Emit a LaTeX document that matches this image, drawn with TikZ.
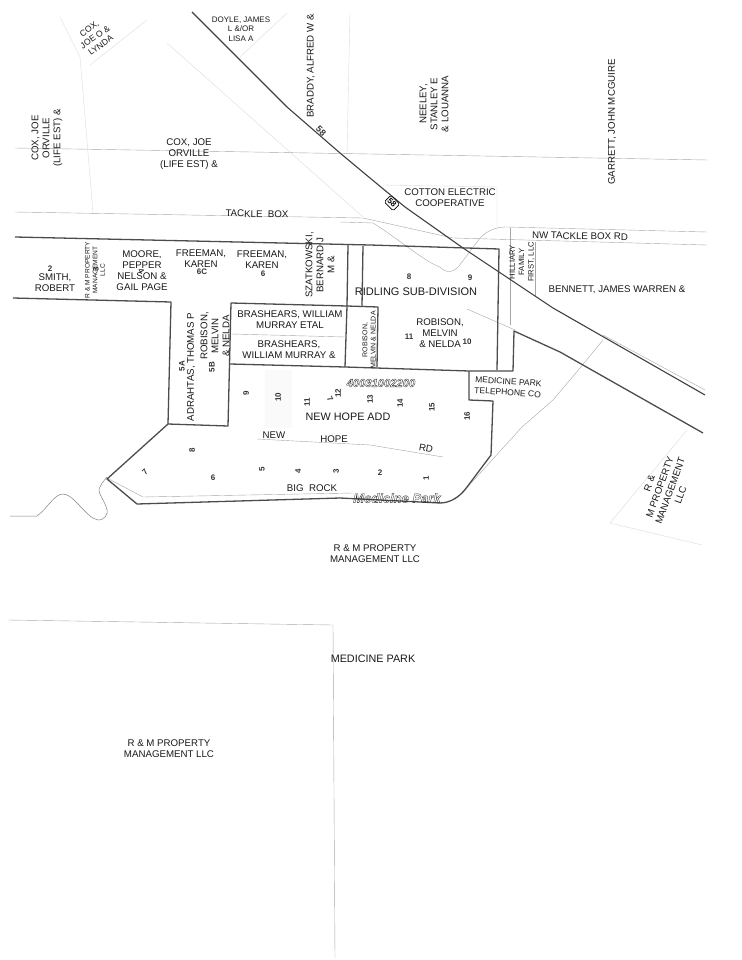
\documentclass[tikz,border=0pt]{standalone}
\usepackage{fontspec}
\setmainfont{Liberation Sans}
\newcommand{\hollowtext}[1]{\special{pdf:code 1 Tr .35 w}#1\special{pdf:code 0 Tr}}
\begin{document}
\begin{tikzpicture}
[x=1pt,y=-1pt,
lotline/.style={black!70,line width=1.3pt,line join=round},
highway/.style={black!75,line width=1.1pt},
faint/.style={black!35,line width=.4pt},
faintest/.style={black!14,line width=.4pt},
owner/.style={font=\fontsize{9.7}{11}\selectfont,align=center,inner sep=0pt,black!90},
small/.style={font=\fontsize{8}{9.6}\selectfont,align=center,inner sep=0pt,black!90},
lotno/.style={font=\bfseries\fontsize{8}{9}\selectfont,inner sep=0pt,black!80},
hollow/.style={font=\bfseries\itshape\fontsize{11.2}{12}\selectfont,inner sep=0pt,black!80}]
\useasboundingbox (0,0) rectangle (741,960);
\fill[black!2] (265,370) rectangle (292,428);
\draw[faint] (15,148) -- (370,154) -- (708,160);
\draw[faint] (15,212) -- (363,218) -- (453,238) -- (707,245);
\draw[faint] (340,222) -- (373,223) .. controls (400,240) and (425,262) .. (440,267)
	.. controls (448,275) and (455,272) .. (462,262) -- (480,238) .. controls (490,228) and (500,227) .. (507,227) -- (707,232);
\draw[faint] (463,492) -- (522,427) -- (553,400) -- (580,368) -- (603,340);
\draw[faint] (603,335) -- (705,390);
\draw[faint] (107,478) -- (143,497) -- (353,493);
\draw[faint] (257,439) -- (370,445) -- (443,457);
\draw[black!50,line width=.5pt] (10,516) -- (37,516) .. controls (48,508) and (54,494) .. (63,494)
	.. controls (74,494) and (86,518) .. (98,520) .. controls (105,520) and (108,514) .. (107,510) .. controls (105,500) and (96,492) .. (100,487) .. controls (102,482) and (105,480) .. (107,477);
\draw[faint] (8,620) -- (333,625) -- (335,958);
\draw[faintest] (687,430) -- (610,523) -- (702,545);
\draw[faint] (510,228) -- (510,325);
\draw[faint] (535,242) -- (535,297);
\draw[faint] (467,309) -- (515,330);
\draw[faint] (231,334) -- (345,337);
\draw[faintest] (60,17) -- (80,57) -- (93,213);
\draw[faintest] (90,65) -- (147,20);
\draw[faintest] (240,57) -- (287,13);
\draw[faintest] (350,13) -- (347,153);
\draw[faintest] (167,43) -- (363,217);
\draw[faintest] (383,185) -- (497,187) -- (497,230);
\draw[highway] (192,12) -- (287,107) -- (340,153) -- (370,178) -- (405,207) -- (463,248) -- (553,308) -- (705,395);
\draw[lotline] (15,237) -- (370,245) -- (499,249) -- (497,370);
\draw[lotline] (13,298) -- (171,302) -- (168,424) -- (228,426) -- (231,303) -- (347,306) -- (345,367);
\draw[lotline] (348,245) -- (347,306) -- (378,307) -- (377,367);
\draw[lotline] (363,246) -- (362,306);
\draw[lotline] (230,364) -- (345,367) -- (469,371) -- (513,371) -- (514,331) -- (560,352) -- (703,433);
\draw[lotline] (469,371) -- (469,400) -- (493,401) -- (491,455) -- (467,487)
	.. controls (460,497) and (450,503) .. (440,503) -- (340,498) -- (137,504) -- (107,479) -- (168,424);
\node[draw=black,fill=white,rounded corners=1.5pt,line width=.7pt,rotate=-45,inner sep=1.8pt,font=\bfseries\fontsize{8}{9}\selectfont] (shield) at (392,203) {58};
\node[lotno,rotate=-45,font=\bfseries\fontsize{9}{10}\selectfont] (routeno) at (321,131) {58};
\node[small,rotate=35,font=\fontsize{8.6}{10}\selectfont] (coxo) at (95,37) {COX,\\JOE O \&\\LYNDA};
\node[small] (doyle) at (241,29) {DOYLE, JAMES\\L \&/OR\\LISA A};
\node[owner,rotate=90] (braddy) at (311,66) {BRADDY, ALFRED W \&};
\node[owner,rotate=90] (neeley) at (434,104) {NEELEY,\\STANLEY E\\\& LOUANNA};
\node[owner,rotate=90] (garrett) at (612,122) {GARRETT, JOHN MCGUIRE};
\node[owner,rotate=90] (coxa) at (47,138) {COX, JOE\\ORVILLE\\(LIFE EST) \&};
\node[owner] (coxb) at (189,154) {COX, JOE\\ORVILLE\\(LIFE EST) \&};
\node[owner,rotate=-1] (tackle) at (257,214) {TACKLE\ \ BOX};
\node[owner] (cotton) at (450,198) {COTTON ELECTRIC\\COOPERATIVE};
\node[owner,rotate=-1] (tacklerd) at (580,236) {NW TACKLE BOX RD};
\node[small,rotate=90,font=\fontsize{7.7}{9.4}\selectfont] (hilliary) at (522,262) {HILLIARY\\FAMILY\\FIRST, LLC};
\node[owner] (bennett) at (617,290) {BENNETT, JAMES WARREN \&};
\node[owner,font=\fontsize{11}{13}\selectfont] (ridling) at (416,292) {RIDLING SUB-DIVISION};
\node[owner] (robisona) at (440,333) {ROBISON,\\MELVIN\\\& NELDA};
\node[small,font=\fontsize{7}{8.2}\selectfont,rotate=90] (robisonb) at (369,340) {ROBISON,\\MELVIN \& NELDA};
\node[small,rotate=-4,font=\fontsize{8.5}{11}\selectfont] (telephone) at (508,387) {MEDICINE PARK\\TELEPHONE CO};
\node[hollow] (parcel) at (381,383) {\hollowtext{40031002200}};
\node[owner,font=\fontsize{10.8}{12}\selectfont] (newhopeadd) at (348,417) {NEW HOPE ADD};
\node[owner] (newname) at (274,435) {NEW};
\node[owner] (hopename) at (334,439) {HOPE};
\node[owner,rotate=-10] (rdname) at (426,448) {RD};
\node[owner] (bigrock) at (312,488) {BIG\ \ ROCK};
\node[hollow,font=\bfseries\itshape\fontsize{13}{14}\selectfont] (medpark) at (397,498) {\hollowtext{Medicine Park}};
\node[owner] (smith) at (55,283) {SMITH,\\ROBERT};
\node[small,font=\fontsize{6.6}{7.6}\selectfont,rotate=90] (rmsmall) at (95,270) {R \& M PROPERTY\\MANAGEMENT\\LLC};
\node[owner] (moore) at (142,271) {MOORE,\\PEPPER\\NELSON \&\\GAIL PAGE};
\node[owner] (freemana) at (201,259) {FREEMAN,\\KAREN};
\node[owner] (freemanb) at (262,260) {FREEMAN,\\KAREN};
\node[owner,rotate=90] (szat) at (320,265) {SZATKOWSKI,\\BERNARD J\\M \&};
\node[owner] (brasha) at (290,320) {BRASHEARS, WILLIAM\\MURRAY ETAL};
\node[owner] (brashb) at (289,350) {BRASHEARS,\\WILLIAM MURRAY \&};
\node[owner,rotate=90] (adrahtas) at (191,367) {ADRAHTAS, THOMAS P};
\node[owner,rotate=90] (robisonc) at (215,336) {ROBISON,\\MELVIN\\\& NELDA};
\node[owner] (rma) at (375,554) {R \& M PROPERTY\\MANAGEMENT LLC};
\node[owner,font=\fontsize{10.8}{12}\selectfont] (medicine) at (373,659) {MEDICINE PARK};
\node[owner] (rmb) at (169,749) {R \& M PROPERTY\\MANAGEMENT LLC};
\node[owner,rotate=70] (rmc) at (665,489) {R \&\\M PROPERTY\\MANAGEMENT\\LLC};
\foreach \x/\y/\r/\t/\n in {50/269/0/2/a,96/269/90/3/b,141/271/-60/4/c,202/272/0/6C/d,263/274/0/6/e,182/366/90/5A/f,212/367/90/5B/g,
	409/277/0/8/h,470/278/0/9/i,409/337/0/11/j,467/342/0/10/k,246/393/90/9/l,278/397/90/10/m,307/402/90/11/n,338/393/90/12/o,330/399/-60/7/p,
	370/399/90/13/q,400/403/90/14/r,432/407/90/15/s,467/416/90/16/t,380/473/0/2/u,426/478/90/1/v,336/471/90/3/w,298/471/90/4/x,262/469/90/5/y,
	213/478/0/6/z,145/472/45/7/aa,192/450/90/8/ab}
	\node[lotno,rotate=\r] (lot\n) at (\x,\y) {\t};
\end{tikzpicture}
\end{document}
